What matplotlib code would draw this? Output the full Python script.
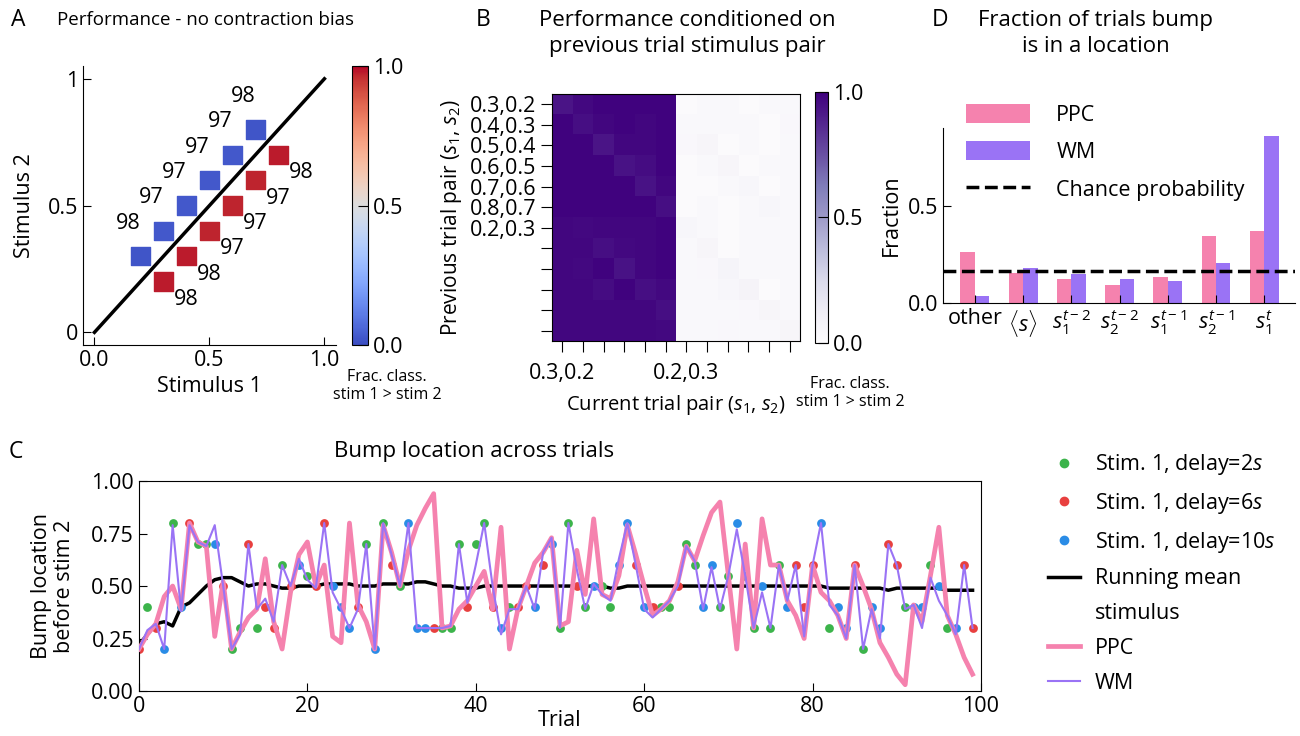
import matplotlib
matplotlib.use('Agg')
import matplotlib.pyplot as plt
import numpy as np
from matplotlib.lines import Line2D

plt.rcParams['font.family'] = ['Open Sans', 'DejaVu Sans']
plt.rcParams['font.size'] = 15.5
plt.rcParams['mathtext.fontset'] = 'custom'
plt.rcParams['mathtext.rm'] = 'Open Sans'
plt.rcParams['mathtext.it'] = 'Open Sans:italic'
plt.rcParams['xtick.direction'] = 'in'
plt.rcParams['ytick.direction'] = 'in'
plt.rcParams['xtick.major.size'] = 6
plt.rcParams['ytick.major.size'] = 6

# ---- panel A data: stimulus pairs and performance
pair_s1 = [0.2, 0.3, 0.4, 0.5, 0.6, 0.7, 0.3, 0.4, 0.5, 0.6, 0.7, 0.8]
pair_s2 = [0.3, 0.4, 0.5, 0.6, 0.7, 0.8, 0.2, 0.3, 0.4, 0.5, 0.6, 0.7]
perf = [98, 97, 97, 97, 97, 98, 98, 98, 97, 97, 97, 98]
frac_s1_gt_s2 = [0.02, 0.03, 0.03, 0.03, 0.03, 0.02, 0.98, 0.98, 0.97, 0.97, 0.97, 0.98]

# ---- panel B data: performance conditioned on previous pair (rows: previous, cols: current)
pair_labels = ["0.3,0.2", "0.4,0.3", "0.5,0.4", "0.6,0.5", "0.7,0.6", "0.8,0.7", "0.2,0.3"]
cond_perf = [
    [0.93, 0.97, 0.99, 0.99, 0.99, 0.99, 0.01, 0.02, 0.02, 0.01, 0.02, 0.02],
    [0.99, 0.95, 0.98, 0.99, 0.98, 0.99, 0.02, 0.02, 0.02, 0.02, 0.01, 0.03],
    [0.99, 0.99, 0.93, 0.98, 0.98, 0.99, 0.03, 0.05, 0.01, 0.02, 0.01, 0.02],
    [0.99, 0.99, 0.99, 0.94, 0.96, 0.99, 0.01, 0.02, 0.05, 0.01, 0.02, 0.02],
    [0.99, 0.99, 0.99, 0.99, 0.94, 0.98, 0.01, 0.01, 0.02, 0.04, 0.01, 0.02],
    [0.99, 0.99, 0.99, 0.99, 0.99, 0.95, 0.01, 0.02, 0.01, 0.02, 0.04, 0.02],
    [0.98, 0.97, 0.98, 0.98, 0.98, 0.99, 0.04, 0.02, 0.01, 0.02, 0.02, 0.02],
    [0.98, 0.98, 0.95, 0.97, 0.98, 0.99, 0.02, 0.05, 0.01, 0.02, 0.02, 0.02],
    [0.98, 0.97, 0.99, 0.94, 0.98, 0.99, 0.02, 0.03, 0.06, 0.02, 0.02, 0.02],
    [0.98, 0.98, 0.96, 0.99, 0.95, 0.97, 0.02, 0.02, 0.04, 0.07, 0.01, 0.02],
    [0.98, 0.98, 0.98, 0.98, 0.98, 0.95, 0.02, 0.02, 0.02, 0.03, 0.05, 0.02],
    [0.98, 0.98, 0.98, 0.98, 0.98, 0.97, 0.02, 0.02, 0.03, 0.02, 0.02, 0.05],
]

# ---- panel D data
loc_labels = ['other', r'$\langle s\rangle$', r'$s_1^{t-2}$', r'$s_2^{t-2}$',
              r'$s_1^{t-1}$', r'$s_2^{t-1}$', r'$s_1^{t}$']
frac_ppc = [0.264, 0.155, 0.121, 0.095, 0.134, 0.346, 0.372]
frac_wm = [0.036, 0.181, 0.150, 0.124, 0.114, 0.207, 0.858]
chance = 1 / 6

# ---- panel C data: 100 trials
stim1 = [0.2, 0.4, 0.3, 0.2, 0.8, 0.4, 0.8, 0.7, 0.7, 0.7,
         0.5, 0.2, 0.3, 0.7, 0.3, 0.4, 0.3, 0.6, 0.5, 0.6,
         0.55, 0.5, 0.8, 0.5, 0.4, 0.3, 0.4, 0.7, 0.2, 0.8,
         0.6, 0.5, 0.8, 0.3, 0.3, 0.3, 0.3, 0.3, 0.7, 0.4,
         0.7, 0.8, 0.4, 0.3, 0.4, 0.4, 0.5, 0.4, 0.6, 0.7,
         0.3, 0.8, 0.5, 0.4, 0.5, 0.5, 0.4, 0.6, 0.8, 0.6,
         0.4, 0.4, 0.4, 0.4, 0.5, 0.7, 0.6, 0.4, 0.6, 0.4,
         0.55, 0.8, 0.55, 0.3, 0.5, 0.3, 0.6, 0.4, 0.6, 0.4,
         0.6, 0.8, 0.3, 0.4, 0.3, 0.6, 0.2, 0.4, 0.3, 0.7,
         0.6, 0.4, 0.4, 0.4, 0.6, 0.5, 0.3, 0.3, 0.6, 0.3]
delay = [6, 2, 6, 10, 2, 10, 6, 2, 2, 10,
         6, 2, 2, 6, 2, 6, 6, 2, 6, 10,
         2, 6, 6, 10, 10, 10, 6, 2, 10, 2,
         6, 2, 10, 10, 10, 6, 2, 2, 2, 6,
         2, 2, 6, 10, 2, 6, 6, 10, 6, 10,
         2, 2, 6, 2, 10, 2, 2, 10, 10, 6,
         10, 6, 2, 2, 6, 2, 2, 10, 10, 2,
         2, 10, 2, 2, 10, 2, 2, 10, 6, 6,
         6, 10, 2, 10, 10, 6, 2, 10, 10, 6,
         6, 2, 10, 10, 2, 10, 2, 10, 6, 6]
bump_ppc = [0.20, 0.27, 0.32, 0.45, 0.50, 0.39, 0.80, 0.71, 0.69, 0.26,
            0.52, 0.20, 0.28, 0.35, 0.39, 0.63, 0.33, 0.20, 0.47, 0.65,
            0.71, 0.50, 0.60, 0.26, 0.23, 0.80, 0.41, 0.33, 0.20, 0.79,
            0.66, 0.50, 0.67, 0.79, 0.87, 0.94, 0.30, 0.31, 0.39, 0.43,
            0.50, 0.57, 0.39, 0.78, 0.20, 0.39, 0.50, 0.61, 0.66, 0.73,
            0.31, 0.33, 0.67, 0.46, 0.82, 0.46, 0.44, 0.55, 0.79, 0.65,
            0.50, 0.36, 0.39, 0.43, 0.52, 0.69, 0.62, 0.74, 0.85, 0.90,
            0.55, 0.20, 0.70, 0.30, 0.82, 0.60, 0.60, 0.43, 0.36, 0.25,
            0.60, 0.47, 0.43, 0.36, 0.25, 0.60, 0.50, 0.39, 0.23, 0.16,
            0.08, 0.03, 0.41, 0.33, 0.55, 0.78, 0.36, 0.27, 0.16, 0.08]
bump_wm = [0.20, 0.29, 0.32, 0.20, 0.79, 0.38, 0.79, 0.71, 0.69, 0.79,
           0.50, 0.20, 0.27, 0.70, 0.39, 0.44, 0.33, 0.60, 0.50, 0.63,
           0.53, 0.49, 0.80, 0.47, 0.39, 0.30, 0.39, 0.70, 0.20, 0.80,
           0.65, 0.50, 0.80, 0.30, 0.30, 0.30, 0.30, 0.31, 0.70, 0.42,
           0.60, 0.80, 0.50, 0.27, 0.39, 0.39, 0.50, 0.39, 0.66, 0.73,
           0.30, 0.80, 0.58, 0.39, 0.51, 0.46, 0.43, 0.63, 0.80, 0.60,
           0.39, 0.35, 0.39, 0.43, 0.50, 0.69, 0.62, 0.39, 0.59, 0.39,
           0.55, 0.77, 0.55, 0.30, 0.47, 0.30, 0.60, 0.43, 0.60, 0.26,
           0.60, 0.80, 0.41, 0.36, 0.25, 0.60, 0.20, 0.39, 0.25, 0.70,
           0.60, 0.39, 0.41, 0.30, 0.54, 0.43, 0.36, 0.27, 0.60, 0.30]
running_mean = [0.22, 0.27, 0.32, 0.33, 0.31, 0.40, 0.42, 0.46, 0.50, 0.53,
                0.54, 0.54, 0.52, 0.50, 0.51, 0.51, 0.50, 0.49, 0.49, 0.50,
                0.50, 0.50, 0.51, 0.51, 0.51, 0.51, 0.50, 0.50, 0.50, 0.51,
                0.51, 0.51, 0.51, 0.52, 0.52, 0.51, 0.50, 0.50, 0.49, 0.49,
                0.49, 0.50, 0.50, 0.50, 0.50, 0.50, 0.50, 0.50, 0.50, 0.50,
                0.50, 0.50, 0.50, 0.50, 0.50, 0.50, 0.49, 0.49, 0.50, 0.50,
                0.50, 0.50, 0.50, 0.50, 0.50, 0.50, 0.50, 0.50, 0.50, 0.50,
                0.50, 0.50, 0.50, 0.50, 0.50, 0.50, 0.50, 0.50, 0.50, 0.50,
                0.50, 0.50, 0.49, 0.49, 0.49, 0.49, 0.49, 0.49, 0.49, 0.48,
                0.49, 0.49, 0.49, 0.49, 0.49, 0.49, 0.48, 0.48, 0.48, 0.48]

c_ppc = '#F582AE'
c_wm = '#9A73F5'
delay_colors = {2: '#3CB44B', 6: '#E8403F', 10: '#2A8CE6'}

fig = plt.figure(figsize=(13, 7.36), dpi=100)

# ================= A
axA = fig.add_axes([0.0638, 0.5312, 0.1946, 0.379])
axA.plot([0, 1], [0, 1], color='black', lw=2.5, zorder=1)
sc = axA.scatter(pair_s1, pair_s2, c=frac_s1_gt_s2, cmap='coolwarm', vmin=0, vmax=1,
                 marker='s', s=175, zorder=2)
for x, y, p, f in zip(pair_s1, pair_s2, perf, frac_s1_gt_s2):
    off = (-12, 33) if f < 0.5 else (23, -18)
    axA.annotate(str(p), (x, y), xytext=off, textcoords='offset pixels',
                 ha='center', va='center', fontsize=15.5)
axA.set_xlim(-0.05, 1.05)
axA.set_ylim(-0.05, 1.05)
axA.set_xticks([0, 0.5, 1])
axA.set_xticklabels(['0.0', '0.5', '1.0'])
axA.set_yticks([0, 0.5, 1])
axA.set_yticklabels(['0', '0.5', '1'])
axA.spines['top'].set_visible(False)
axA.spines['right'].set_visible(False)
axA.set_xlabel('Stimulus 1')
axA.set_ylabel('Stimulus 2', labelpad=9)

caxA = fig.add_axes([0.2708, 0.5312, 0.0123, 0.379])
cbA = fig.colorbar(sc, cax=caxA, ticks=[0, 0.5, 1])
cbA.ax.set_yticklabels(['0.0', '0.5', '1.0'])
cbA.ax.tick_params(direction='in', length=7)
fig.text(0.2977, 0.4755, 'Frac. class.\nstim 1 > stim 2', fontsize=11.5,
         ha='center', va='center')

# ================= B
axB = fig.add_axes([0.4246, 0.5367, 0.1908, 0.3356])
im = axB.imshow(np.array(cond_perf), cmap='Purples', vmin=0, vmax=1, aspect='auto',
                interpolation='nearest')
axB.set_yticks(range(12))
axB.set_yticklabels(pair_labels + [''] * 5)
axB.set_xticks(range(12))
axB.set_xticklabels([pair_labels[0]] + [''] * 5 + [pair_labels[6]] + [''] * 5)
axB.tick_params(direction='out', length=8)
axB.tick_params(axis='x', pad=8)
axB.set_xlabel(r'Current trial pair ($s_1$, $s_2$)', fontsize=14.5, labelpad=6)
axB.set_ylabel(r'Previous trial pair ($s_1$, $s_2$)', fontsize=15)

caxB = fig.add_axes([0.6269, 0.534, 0.0100, 0.341])
cbB = fig.colorbar(im, cax=caxB, ticks=[0, 0.5, 1])
cbB.ax.set_yticklabels(['0.0', '0.5', '1.0'])
cbB.ax.tick_params(direction='in', length=7)
fig.text(0.654, 0.466, 'Frac. class.\nstim 1 > stim 2', fontsize=11.5,
         ha='center', va='center')

# ================= D
axD = fig.add_axes([0.7254, 0.5883, 0.2708, 0.2378])
xD = np.arange(len(loc_labels))
b1 = axD.bar(xD - 0.3, frac_ppc, width=0.3, align='edge', color=c_ppc)
b2 = axD.bar(xD, frac_wm, width=0.3, align='edge', color=c_wm)
ch = axD.axhline(chance, color='black', ls='--', lw=2.5)
axD.set_xlim(-0.66, 6.64)
axD.set_ylim(0, 0.9)
axD.set_xticks(xD)
axD.set_xticklabels(loc_labels)
axD.set_yticks([0, 0.5])
axD.set_yticklabels(['0.0', '0.5'])
axD.spines['top'].set_visible(False)
axD.spines['right'].set_visible(False)
axD.set_ylabel('Fraction')
axD.legend([b1, b2, ch], ['PPC', 'WM', 'Chance probability'], loc='upper left',
           bbox_to_anchor=(0.01, 1.25), frameon=False, handlelength=3.0,
           handleheight=1.0, handletextpad=1.2, labelspacing=0.72)

# ================= C
axC = fig.add_axes([0.1069, 0.0611, 0.6477, 0.2853])
trials = np.arange(len(stim1))
axC.plot(trials, running_mean, color='black', lw=2.5, zorder=1)
for d in [2, 6, 10]:
    idx = [i for i in trials if delay[i] == d]
    axC.scatter([trials[i] for i in idx], [stim1[i] for i in idx],
                color=delay_colors[d], s=40, zorder=2, linewidths=0)
axC.plot(trials, bump_ppc, color=c_ppc, lw=3.4, zorder=3)
axC.plot(trials, bump_wm, color=c_wm, lw=1.5, zorder=4)
axC.set_xlim(0, 100)
axC.set_ylim(0, 1)
axC.set_yticks([0, 0.25, 0.5, 0.75, 1.0])
axC.set_yticklabels(['0.00', '0.25', '0.50', '0.75', '1.00'])
axC.set_xlabel('Trial', labelpad=-5)
axC.set_ylabel('Bump location\nbefore stim 2', linespacing=1.1, labelpad=12)

handles = [
    Line2D([], [], ls='', marker='o', ms=6, color=delay_colors[2]),
    Line2D([], [], ls='', marker='o', ms=6, color=delay_colors[6]),
    Line2D([], [], ls='', marker='o', ms=6, color=delay_colors[10]),
    Line2D([], [], color='black', lw=2.5),
    Line2D([], [], color='none'),
    Line2D([], [], color=c_ppc, lw=3.4),
    Line2D([], [], color=c_wm, lw=1.5),
]
labels = [r'Stim. 1, delay=2$s$', r'Stim. 1, delay=6$s$', r'Stim. 1, delay=10$s$',
          'Running mean', 'stimulus', 'PPC', 'WM']
fig.legend(handles, labels, loc='upper right', bbox_to_anchor=(0.996, 0.412),
           frameon=False, alignment='right', handlelength=1.5, handletextpad=0.7,
           labelspacing=0.64)

# ================= titles and panel letters
fig.text(0.0138, 0.973, 'A', fontsize=16.5, ha='center', va='center')
fig.text(0.1577, 0.973, 'Performance - no contraction bias', fontsize=13.5,
         ha='center', va='center')
fig.text(0.3715, 0.973, 'B', fontsize=16.5, ha='center', va='center')
fig.text(0.5285, 0.954, 'Performance conditioned on\nprevious trial stimulus pair',
         fontsize=16, ha='center', va='center', linespacing=1.3)
fig.text(0.7231, 0.973, 'D', fontsize=16.5, ha='center', va='center')
fig.text(0.843, 0.954, 'Fraction of trials bump\nis in a location',
         fontsize=16, ha='center', va='center', linespacing=1.3)
fig.text(0.0123, 0.386, 'C', fontsize=16.5, ha='center', va='center')
fig.text(0.3646, 0.386, 'Bump location across trials', fontsize=16,
         ha='center', va='center')

fig.savefig('out.png', dpi=100)
